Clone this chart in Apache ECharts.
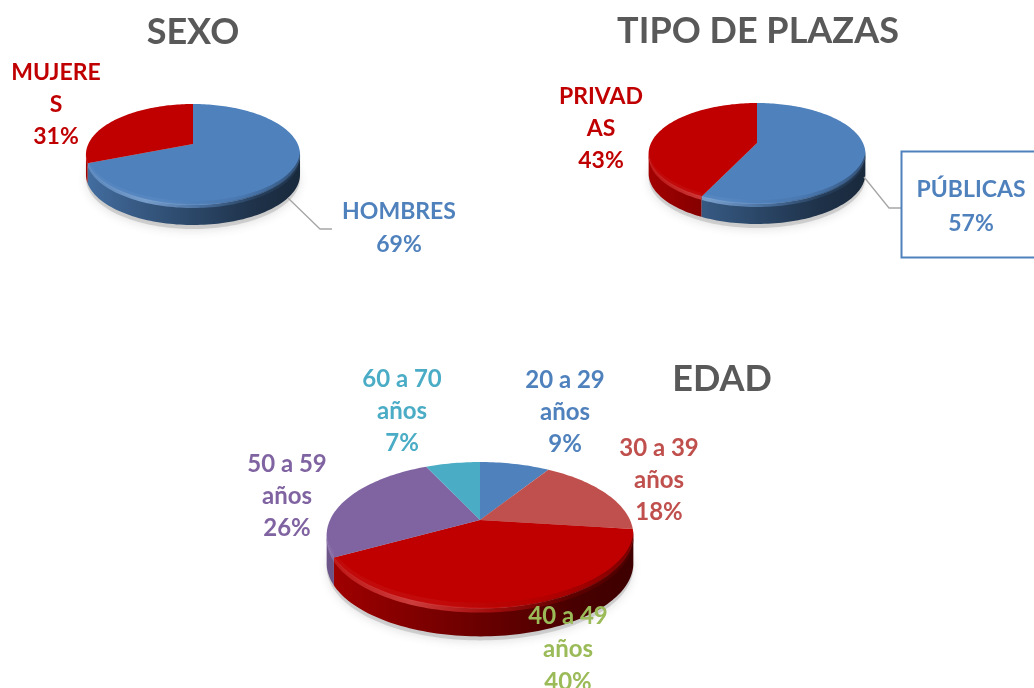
<!DOCTYPE html>
<html><head><meta charset="utf-8">
<style>html,body{margin:0;padding:0;background:#fff}#c{width:1034px;height:688px}</style>
<script src="https://cdn.jsdelivr.net/npm/echarts@6/dist/echarts.min.js"></script>
</head><body><div id="c"></div>
<script>
// ---- data ----
const sexoCategories = ['HOMBRES', 'MUJERE\nS'];
const sexoValues = [69, 31];
const plazasCategories = ['PÚBLICAS', 'PRIVAD\nAS'];
const plazasValues = [57, 43];
const edadCategories = ['20 a 29\naños', '30 a 39\naños', '40 a 49\naños', '50 a 59\naños', '60 a 70\naños'];
const edadValues = [9, 18, 40, 26, 7];
const titleTexts = ['SEXO', 'TIPO DE PLAZAS', 'EDAD'];

// ---- styling / layout ----
const BLUE = '#4F81BD', RED = '#C00000';
const FONT = 'Lato, "Open Sans", sans-serif';
const sexoStyle = {
  cx: 193, apexY: 144, R: 104.7, Q: 48.3, p: 0.208, depth: 20, fontSize: 23,
  fills: [BLUE, RED], labelColors: [BLUE, RED],
  labels: [
    { x: 399, y: 228.5, lh: 33, leader: [[288, 198], [320, 229], [332, 229]] },
    { x: 56, y: 105, lh: 32 }
  ]
};
const plazasStyle = {
  cx: 757, apexY: 143, R: 106, Q: 48.3, p: 0.208, depth: 20, fontSize: 23,
  fills: [BLUE, RED], labelColors: [BLUE, RED],
  labels: [
    { x: 971, y: 207, lh: 34, leader: [[864, 177], [889, 208], [901, 208]], box: [901.5, 151.5, 140, 106] },
    { x: 601, y: 129, lh: 32 }
  ]
};
const edadStyle = {
  cx: 480, apexY: 520, R: 150, Q: 70, p: 0.208, depth: 28, fontSize: 24,
  fills: [BLUE, '#C0504D', RED, '#8064A2', '#4BACC6'],
  labelColors: [BLUE, '#C0504D', '#9BBB59', '#8064A2', '#4BACC6'],
  labels: [
    { x: 565, y: 412, lh: 32 }, { x: 659, y: 480, lh: 32 }, { x: 568, y: 649, lh: 33 },
    { x: 287, y: 496, lh: 32 }, { x: 402, y: 411, lh: 32 }
  ]
};

function shade(hex, f, a) {
  const n = parseInt(hex.slice(1), 16);
  const mix = c => f <= 1 ? Math.round(c * f) : Math.round(c + (255 - c) * (f - 1));
  return `rgba(${mix(n >> 16 & 255)},${mix(n >> 8 & 255)},${mix(n & 255)},${a === undefined ? 1 : a})`;
}
function hGrad(x0, x1, stops) {
  return { type: 'linear', x: x0, y: 0, x2: x1, y2: 0, global: true, colorStops: stops };
}
function project(g, deg, dy) {
  const t = deg * Math.PI / 180, u = Math.sin(t), v = -Math.cos(t), w = 1 - g.p * v;
  return [g.cx + g.R * u / w, g.apexY + g.Q * v / w + (dy || 0)];
}
function arc(g, a, b, dy) {
  const pts = [], n = Math.max(2, Math.ceil(Math.abs(b - a) / 1.5));
  for (let i = 0; i <= n; i++) pts.push(project(g, a + (b - a) * i / n, dy));
  return pts;
}
function band(g, a, b, d0, d1) { return arc(g, a, b, d0).concat(arc(g, b, a, d1)); }

function makeSeries(name, categories, values, g) {
  const total = values.reduce((s, v) => s + v, 0);
  const HALF = g.R * 1.03;
  const VIS_A = 102, VIS_B = 258;
  const s = g.depth / 20;
  return {
    type: 'custom', name, coordinateSystem: 'none', silent: true, animation: false,
    data: values.map(v => [v]),
    renderItem(params, api) {
      const i = params.dataIndex;
      let start = 0;
      for (let k = 0; k < i; k++) start += values[k];
      const a = start / total * 360, b = a + api.value(0) / total * 360;
      const col = g.fills[i], kids = [];
      const x0 = g.cx - HALF, x1 = g.cx + HALF;
      if (i === 0) {
        kids.push({ type: 'polygon', shape: { points: arc(g, 0, 360, g.depth + 4) },
          style: { fill: 'rgba(150,150,150,0.35)', shadowBlur: 9, shadowColor: 'rgba(90,90,90,0.45)', shadowOffsetY: 2 } });
      }
      const va = Math.max(a, VIS_A), vb = Math.min(b, VIS_B);
      // side wall, drawn first so that the face edge stays clean
      if (vb > va) {
        kids.push({ type: 'polygon', shape: { points: band(g, va, vb, 0, g.depth) },
          style: { fill: hGrad(x0, x1, [
            { offset: 0, color: shade(col, 0.85) }, { offset: 0.2, color: shade(col, 0.72) },
            { offset: 0.5, color: shade(col, 0.55) }, { offset: 0.8, color: shade(col, 0.38) },
            { offset: 1, color: shade(col, 0.32) }]) } });
      }
      // top face
      kids.push({ type: 'polygon', shape: { points: [[g.cx, g.apexY]].concat(arc(g, a, b)) }, style: { fill: col } });
      if (vb > va) {
        // bevel on the rim
        kids.push({ type: 'polygon', shape: { points: band(g, va, vb, -1, 3 * s) },
          style: { fill: hGrad(x0, x1, [
            { offset: 0, color: shade(col, 1.1, 0.8) }, { offset: 0.28, color: shade(col, 1.25, 0.95) },
            { offset: 0.55, color: shade(col, 1.08, 0.6) }, { offset: 0.8, color: shade(col, 0.55, 0.6) },
            { offset: 1, color: shade(col, 0.4, 0.9) }]) } });
        kids.push({ type: 'polygon', shape: { points: band(g, va, vb, -4 * s, -1) },
          style: { fill: hGrad(x0, x1, [
            { offset: 0, color: shade(col, 1.1, 0.35) }, { offset: 0.35, color: shade(col, 1.12, 0.35) },
            { offset: 0.7, color: shade(col, 0.8, 0.3) }, { offset: 1, color: shade(col, 0.45, 0.7) }]) } });
      }
      // label
      const lab = g.labels[i];
      if (lab.leader) kids.push({ type: 'polyline', shape: { points: lab.leader }, style: { fill: 'none', stroke: '#a6a6a6', lineWidth: 1.3 } });
      if (lab.box) kids.push({ type: 'rect', shape: { x: lab.box[0], y: lab.box[1], width: lab.box[2], height: lab.box[3] },
        style: { fill: '#fff', stroke: BLUE, lineWidth: 2 } });
      kids.push({ type: 'text', z2: 50, style: {
        x: lab.x, y: lab.y, text: categories[i] + '\n' + api.value(0) + '%', fill: g.labelColors[i],
        font: 'bold ' + g.fontSize + 'px ' + FONT, align: 'center', verticalAlign: 'middle', lineHeight: lab.lh } });
      return { type: 'group', children: kids };
    }
  };
}

const chart = echarts.init(document.getElementById('c'), null, { renderer: 'canvas' });
const titleStyle = { color: '#595959', fontFamily: FONT, fontWeight: 'bold', fontSize: 36 };
chart.setOption({
  backgroundColor: '#fff',
  animation: false,
  title: [
    { text: titleTexts[0], left: 188, top: 9, textAlign: 'center', textStyle: titleStyle },
    { text: titleTexts[1], left: 753, top: 8, textAlign: 'center', textStyle: titleStyle },
    { text: titleTexts[2], left: 717, top: 356, textAlign: 'center', textStyle: titleStyle }
  ],
  series: [
    makeSeries('SEXO', sexoCategories, sexoValues, sexoStyle),
    makeSeries('TIPO DE PLAZAS', plazasCategories, plazasValues, plazasStyle),
    makeSeries('EDAD', edadCategories, edadValues, edadStyle)
  ]
});
</script></body></html>
